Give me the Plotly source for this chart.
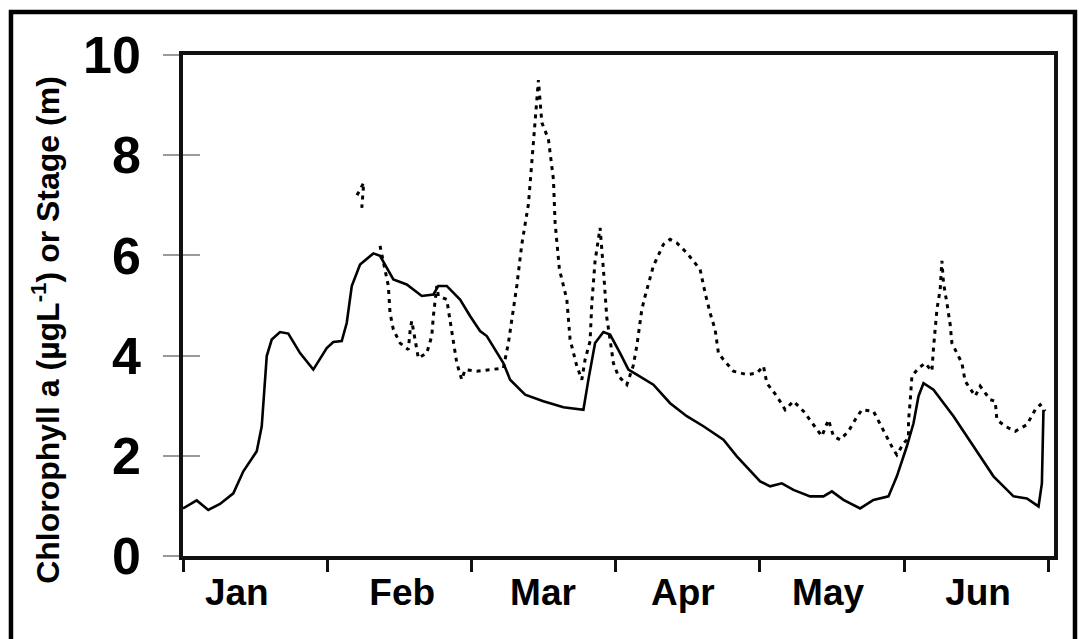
import plotly.graph_objects as go

# x in days from 1 Jan, months drawn with equal width (30 days)
chl_day = [0, 2.85, 5.26, 7.70, 10.47, 12.55, 15.34, 16.38, 17.42, 18.46, 20.18, 21.91, 24.35, 27.11,
           29.90, 31.28, 33.02, 34.06, 35.11, 36.83, 39.60, 40.99, 43.76, 46.55, 49.67, 52.09, 53.13,
           54.87, 57.64, 59.72, 61.80, 63.20, 66.65, 68.05, 71.17, 74.97, 79.14, 83.30, 84.34, 85.73,
           87.46, 88.85, 90.93, 92.66, 94.41, 97.86, 101.34, 104.81, 108.27, 112.43, 115.22, 118.67,
           120.07, 122.15, 124.58, 126.99, 130.47, 133.24, 134.99, 137.40, 140.87, 143.64, 146.76,
           148.51, 150.59, 151.97, 153.01, 154.05, 156.13, 160.29, 164.45, 168.61, 172.78, 175.56,
           177.98, 178.68, 179.01]
chl_val = [0.95, 1.11, 0.92, 1.04, 1.25, 1.69, 2.09, 2.59, 3.99, 4.32, 4.47, 4.44, 4.05, 3.72,
           4.15, 4.27, 4.29, 4.65, 5.39, 5.82, 6.04, 5.99, 5.52, 5.42, 5.19, 5.22, 5.39,
           5.39, 5.12, 4.79, 4.49, 4.39, 3.85, 3.52, 3.22, 3.09, 2.97, 2.92, 3.52, 4.25,
           4.47, 4.42, 4.05, 3.72, 3.62, 3.42, 3.05, 2.79, 2.59, 2.32, 1.99, 1.62,
           1.49, 1.39, 1.45, 1.32, 1.19, 1.19, 1.29, 1.12, 0.95, 1.12, 1.19,
           1.59, 2.19, 2.65, 3.19, 3.45, 3.32, 2.79, 2.19, 1.59, 1.19, 1.15,
           0.99, 1.45, 2.92]

stage_day = [36.2, 37.6, 37.2, None, 40.99, 42.72, 43.07, 43.76, 45.15, 46.88, 47.24, 47.59, 48.96,
             50.71, 51.75, 52.09, 52.80, 53.13, 54.87, 55.56, 56.25, 56.96, 57.99, 58.68, 61.12,
             66.65, 67.69, 68.40, 69.44, 70.48, 71.86, 72.56, 73.25, 73.94, 74.65, 76.02, 77.06,
             77.41, 78.31, 79.85, 80.53, 81.93, 82.97, 83.65, 84.69, 85.05, 85.73, 86.77, 87.46,
             87.81, 88.17, 88.85, 89.54, 90.58, 92.33, 93.64, 94.41, 95.45, 96.14, 97.86, 99.94,
             101.34, 102.73, 104.81, 107.58, 108.62, 109.66, 110.70, 111.39, 112.43, 114.51,
             117.30, 119.38, 120.76, 121.46, 123.54, 125.27, 126.99, 129.08, 131.16, 132.91,
             134.28, 135.32, 136.72, 138.44, 139.84, 141.23, 143.64, 144.68, 146.08, 147.81,
             148.51, 149.89, 150.93, 150.93, 151.28, 151.64, 153.01, 154.40, 155.80, 156.13,
             156.84, 157.52, 157.88, 158.21, 158.92, 159.60, 159.96, 161.00, 162.04, 162.72,
             164.12, 164.81, 165.85, 167.93, 168.97, 169.32, 171.05, 173.13, 175.56, 177.29,
             178.33, 179.37]
stage_val = [7.2, 7.45, 6.95, None, 6.19, 5.39, 4.85, 4.52, 4.25, 4.12, 4.49, 4.69, 3.95,
             4.05, 4.39, 4.79, 5.39, 5.19, 5.12, 4.72, 4.25, 3.85, 3.52, 3.72, 3.69,
             3.75, 4.25, 4.69, 5.39, 6.22, 7.02, 7.85, 8.62, 9.50, 8.65, 8.32, 7.52,
             6.65, 5.72, 5.12, 4.32, 3.79, 3.52, 3.92, 4.29, 5.05, 5.89, 6.55, 5.72,
             5.25, 4.75, 4.32, 3.85, 3.59, 3.42, 3.79, 4.19, 4.92, 5.19, 5.79, 6.22,
             6.32, 6.25, 6.05, 5.72, 5.25, 4.85, 4.52, 4.05, 3.92, 3.69,
             3.62, 3.65, 3.79, 3.45, 3.19, 2.92, 3.09, 2.89, 2.62, 2.39,
             2.72, 2.39, 2.32, 2.49, 2.72, 2.92, 2.89, 2.69, 2.42, 2.12,
             2.02, 2.25, 2.35, 2.69, 3.09, 3.59, 3.75, 3.85, 3.69, 4.15,
             4.92, 5.32, 5.89, 5.45, 5.05, 4.62, 4.25, 4.05, 3.85, 3.49,
             3.29, 3.19, 3.39, 3.12, 3.09, 2.72, 2.59, 2.49, 2.62, 2.92,
             3.02, 2.89]

month_bounds = [0, 30, 60, 90, 120, 150, 180]
month_label_pos = [11.2, 45.6, 74.9, 104.0, 134.2, 165.4]
month_labels = ["Jan", "Feb", "Mar", "Apr", "May", "Jun"]
y_ticks = [0, 2, 4, 6, 8, 10]

FONT = "Arial, 'Liberation Sans', sans-serif"

fig = go.Figure()
fig.add_trace(go.Scatter(x=stage_day, y=stage_val, mode="lines", connectgaps=False,
                         line=dict(color="black", width=3, dash="4px,5px"), showlegend=False))
fig.add_trace(go.Scatter(x=chl_day, y=chl_val, mode="lines",
                         line=dict(color="black", width=2.6), showlegend=False))
# invisible trace to activate the inner tick axis
fig.add_trace(go.Scatter(x=[0], y=[0], yaxis="y2", mode="markers",
                         marker=dict(opacity=0), showlegend=False, hoverinfo="skip"))

fig.update_layout(
    width=1079, height=639,
    margin=dict(l=183, r=25, t=55, b=83),
    paper_bgcolor="white", plot_bgcolor="white",
    font=dict(family=FONT, color="black"),
    xaxis=dict(range=[0, 181.2], showgrid=False, zeroline=False,
               showline=True, linecolor="#111", linewidth=3.5, mirror=True,
               tickmode="array", tickvals=month_label_pos, ticktext=month_labels,
               ticks="", ticklabelstandoff=1,
               tickfont=dict(size=37, family=FONT, weight="bold"),
               minor=dict(tickmode="array", tickvals=month_bounds, ticks="outside",
                          ticklen=12, tickwidth=2.5, tickcolor="#111", showgrid=False)),
    yaxis=dict(range=[0, 10], showgrid=False, zeroline=False,
               showline=True, linecolor="#111", linewidth=3.5, mirror=True,
               tickmode="array", tickvals=y_ticks, ticks="outside", ticklen=16,
               tickwidth=2, tickcolor="#9a9a9a", ticklabelstandoff=12,
               tickfont=dict(size=52, family=FONT, weight="bold")),
    yaxis2=dict(range=[0, 10], overlaying="y", side="left", showgrid=False, zeroline=False,
                showline=False, tickmode="array", tickvals=y_ticks[:-1], ticks="inside",
                ticklen=17, tickwidth=2, tickcolor="#9a9a9a", showticklabels=False),
)

fig.add_annotation(text="Chlorophyll a (µgL<sup>-1</sup>) or Stage (m)",
                   xref="paper", yref="paper", x=-0.1575, y=0.451, textangle=-90,
                   showarrow=False, xanchor="center", yanchor="middle",
                   font=dict(size=32, family=FONT, weight="bold"))

# outer frame of the figure panel
fig.add_shape(type="rect", xref="paper", yref="paper",
              x0=-0.1975, x1=1.0241, y0=-0.22, y1=1.0858,
              line=dict(color="black", width=4.5), fillcolor="rgba(0,0,0,0)", layer="above")

fig.write_html("out.html", config={"displayModeBar": False},
               post_script="document.body.style.margin='0';")
